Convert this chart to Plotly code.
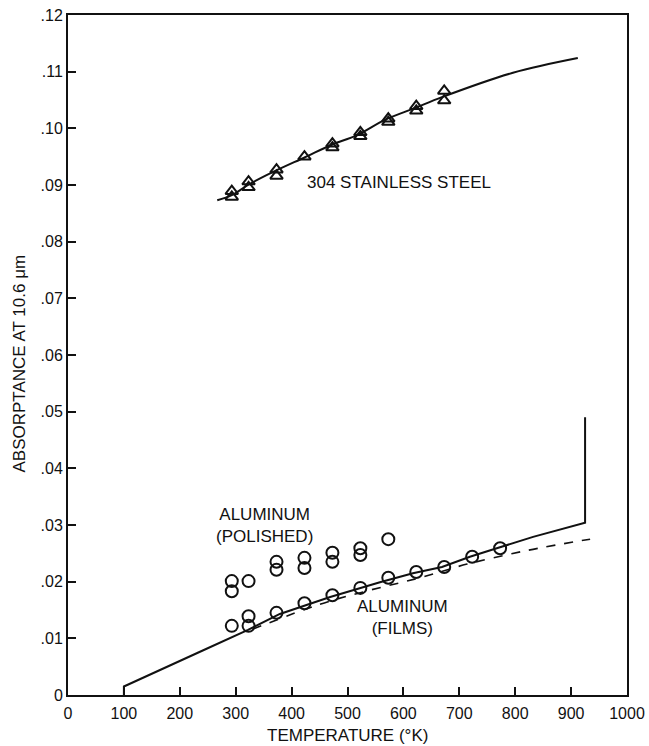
import plotly.graph_objects as go

# ---- data ----
steel_curve_x = [267, 293, 322, 367, 424, 472, 517, 567, 621, 669, 796, 912]
steel_curve_y = [0.0873, 0.0882, 0.0900, 0.0923, 0.0949, 0.0971, 0.0988, 0.1015, 0.1036, 0.1055, 0.1098, 0.1124]

steel_upper_x = [293, 323, 373, 423, 473, 523, 573, 623, 673]
steel_upper_y = [0.0889, 0.0906, 0.0927, 0.0950, 0.0973, 0.0993, 0.1017, 0.1039, 0.1066]
steel_lower_x = [293, 323, 373, 473, 523, 573, 623, 673]
steel_lower_y = [0.0879, 0.0896, 0.0916, 0.0966, 0.0986, 0.1011, 0.1031, 0.1049]

al_solid_x = [100, 100, 242, 322, 379, 469, 558, 617, 669, 719, 767, 832, 925, 925]
al_solid_y = [0.0, 0.0015, 0.0079, 0.0115, 0.0143, 0.0173, 0.0199, 0.0215, 0.0226, 0.0244, 0.0259, 0.0279, 0.0304, 0.0490]

al_dash_x = [330, 450, 540, 630, 714, 821, 934]
al_dash_y = [0.0116, 0.0160, 0.0185, 0.0207, 0.0231, 0.0255, 0.0275]

polished_x = [293, 293, 323, 373, 373, 423, 423, 473, 473, 523, 523, 573]
polished_y = [0.0183, 0.0201, 0.0201, 0.0221, 0.0235, 0.0224, 0.0242, 0.0235, 0.0251, 0.0247, 0.0259, 0.0275]

films_x = [293, 323, 323, 373, 423, 473, 523, 573, 623, 673, 723, 773]
films_y = [0.0122, 0.0122, 0.0139, 0.0145, 0.0162, 0.0176, 0.0189, 0.0207, 0.0217, 0.0226, 0.0244, 0.0259]

x_ticks = [0, 100, 200, 300, 400, 500, 600, 700, 800, 900, 1000]
y_ticks = [0, 0.01, 0.02, 0.03, 0.04, 0.05, 0.06, 0.07, 0.08, 0.09, 0.10, 0.11, 0.12]
y_ticktext = ["0", ".01", ".02", ".03", ".04", ".05", ".06", ".07", ".08", ".09", ".10", ".11", ".12"]

FONT = "Liberation Sans"
BLACK = "#111111"

fig = go.Figure()
fig.add_trace(go.Scatter(x=steel_curve_x, y=steel_curve_y, mode="lines",
                         line=dict(color=BLACK, width=2, shape="spline")))
fig.add_trace(go.Scatter(x=steel_lower_x, y=steel_lower_y, mode="markers",
                         marker=dict(symbol="triangle-up-open", size=11, color=BLACK, line=dict(width=2))))
fig.add_trace(go.Scatter(x=steel_upper_x, y=steel_upper_y, mode="markers",
                         marker=dict(symbol="triangle-up-open", size=11, color=BLACK, line=dict(width=2))))
fig.add_trace(go.Scatter(x=al_solid_x, y=al_solid_y, mode="lines",
                         line=dict(color=BLACK, width=2)))
fig.add_trace(go.Scatter(x=al_dash_x, y=al_dash_y, mode="lines",
                         line=dict(color=BLACK, width=1.6, dash="dash", shape="spline")))
fig.add_trace(go.Scatter(x=polished_x, y=polished_y, mode="markers",
                         marker=dict(symbol="circle-open", size=12, color=BLACK, line=dict(width=2))))
fig.add_trace(go.Scatter(x=films_x, y=films_y, mode="markers",
                         marker=dict(symbol="circle-open", size=12, color=BLACK, line=dict(width=2))))

tfont = dict(family=FONT, size=17, color=BLACK)
fig.add_annotation(x=592, y=0.0905, text="304 STAINLESS STEEL", showarrow=False, font=tfont)
fig.add_annotation(x=352, y=0.0300, text="ALUMINUM<br>(POLISHED)", showarrow=False, font=tfont)
fig.add_annotation(x=598, y=0.0136, text="ALUMINUM<br>(FILMS)", showarrow=False, font=tfont)
fig.add_annotation(xref="paper", yref="paper", x=-0.087, y=0.488, xanchor="center", yanchor="middle",
                   text="ABSORPTANCE AT 10.6 μm", textangle=-90, showarrow=False, font=tfont)
fig.add_annotation(xref="paper", yref="paper", x=0.5, y=-0.059, xanchor="center", yanchor="middle",
                   text="TEMPERATURE (°K)", showarrow=False, font=tfont)

fig.update_layout(
    width=649, height=746,
    margin=dict(l=68, r=22, t=15, b=51),
    paper_bgcolor="white", plot_bgcolor="white",
    showlegend=False,
    font=dict(family=FONT, size=16, color=BLACK),
)
fig.update_xaxes(range=[0, 1000], tickvals=x_ticks, ticks="inside", ticklen=8, tickwidth=1.5,
                 tickcolor=BLACK, showgrid=False, zeroline=False, showline=True, linecolor=BLACK,
                 linewidth=2, mirror=True, tickfont=dict(family=FONT, size=16, color=BLACK),
                 ticklabelstandoff=3, automargin=False)
fig.update_yaxes(range=[0, 0.12], tickvals=y_ticks, ticktext=y_ticktext, ticks="inside", ticklen=8,
                 tickwidth=1.5, tickcolor=BLACK, showgrid=False, zeroline=False, showline=True,
                 linecolor=BLACK, linewidth=2, mirror=True, tickfont=dict(family=FONT, size=16, color=BLACK),
                 automargin=False)

fig.write_html("out.html")
